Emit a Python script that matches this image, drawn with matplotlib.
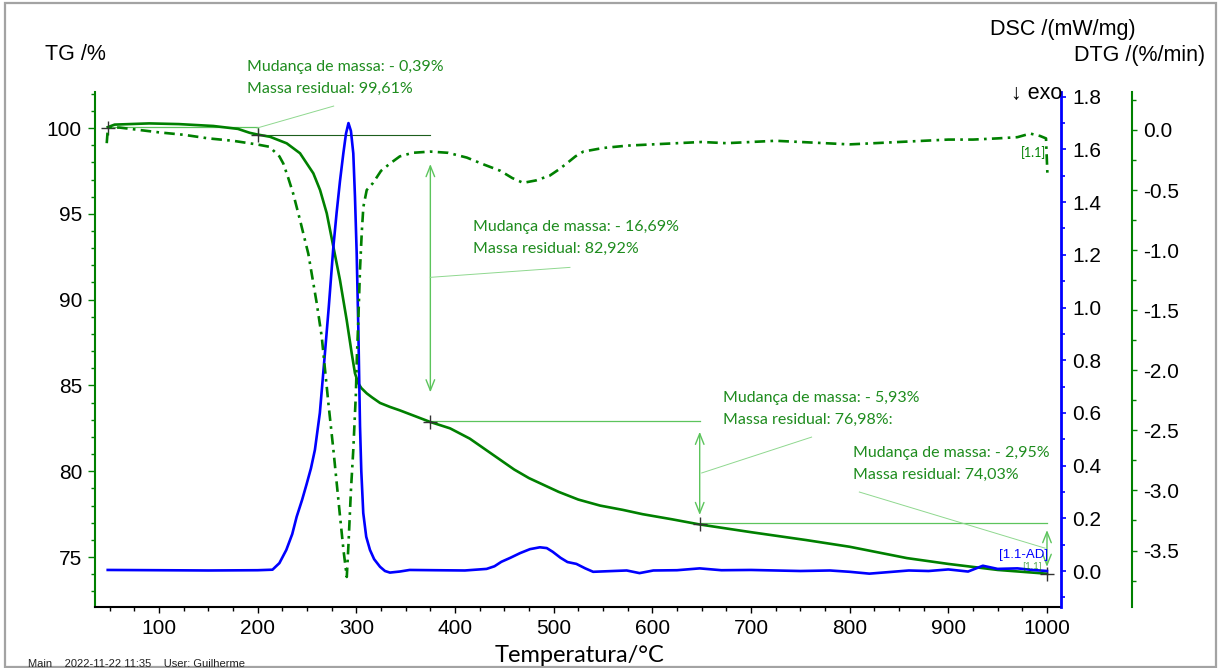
import matplotlib
matplotlib.use('Agg')
import matplotlib.pyplot as plt
from matplotlib.ticker import MultipleLocator, FixedLocator, FormatStrFormatter
from matplotlib.patches import Rectangle

plt.rcParams['font.family'] = ['Liberation Sans', 'DejaVu Sans']
plt.rcParams['axes.unicode_minus'] = False

# ---------------- data ----------------
T_tg = [48, 55, 90, 120, 155, 180, 192, 200, 212.5, 229.4, 242.9, 256.4, 263.2, 270, 276.7,
        283.4, 290.2, 295.3, 298.6, 302, 305, 310.5, 316, 324, 334, 344, 360, 375, 395, 415,
        430, 445, 460, 475, 490, 505, 525, 547, 570, 590, 620, 648, 700, 756, 800, 858, 900,
        950, 1000]
tg = [100.05, 100.2, 100.27, 100.23, 100.12, 99.95, 99.72, 99.62, 99.49, 99.11, 98.53, 97.36,
      96.39, 95.03, 93.08, 91.14, 88.81, 86.87, 85.71, 85.12, 84.85, 84.54, 84.3, 83.98,
      83.75, 83.55, 83.2, 82.87, 82.5, 81.9, 81.3, 80.7, 80.1, 79.6, 79.2, 78.8, 78.35, 78.0,
      77.75, 77.5, 77.2, 76.9, 76.45, 75.99, 75.6, 74.94, 74.6, 74.25, 74.03]

T_dtg = [47, 48, 50, 60, 80, 100, 125, 150, 175, 199, 212, 222, 226, 231, 236, 242.9, 251.3,
         259.8, 264.9, 271.6, 276.7, 283.5, 287, 290.3, 292, 294.5, 296.9, 299.5, 300.5, 302,
         303.7, 305.5, 307.1, 310.5, 317, 325, 334, 344, 357, 375, 393, 412, 430, 446, 458,
         469, 482, 496, 505, 513, 522, 530, 550, 575, 600, 625, 650, 675, 700, 725, 750, 775,
         800, 825, 850, 875, 900, 925, 950, 970, 983, 993, 999, 1000.5]
dtg = [-0.11, 0.0, 0.02, 0.02, 0.0, -0.02, -0.04, -0.07, -0.09, -0.12, -0.14, -0.22, -0.28,
       -0.4, -0.53, -0.75, -1.03, -1.44, -1.72, -2.27, -2.66, -3.22, -3.5, -3.72, -3.45, -3.0,
       -2.66, -2.2, -1.9, -1.58, -1.16, -0.85, -0.64, -0.5, -0.44, -0.34, -0.28, -0.22, -0.19,
       -0.18, -0.19, -0.23, -0.29, -0.34, -0.40, -0.44, -0.42, -0.38, -0.33, -0.28, -0.22,
       -0.18, -0.15, -0.13, -0.12, -0.11, -0.10, -0.11, -0.10, -0.09, -0.10, -0.11, -0.12,
       -0.11, -0.10, -0.09, -0.08, -0.08, -0.07, -0.06, -0.03, -0.05, -0.07, -0.38]

T_dsc = [48, 100, 150, 200, 215, 222, 229, 235, 239.5, 245, 249.6, 254, 258, 263, 268, 272,
         276.7, 280, 283.4, 286.8, 289.5, 292, 294.5, 296.9, 298.6, 300.3, 302, 303.7, 305,
         307, 310, 313.8, 318, 324, 329, 334, 344, 354, 380, 410, 432, 440, 447, 456, 466,
         476, 486, 493, 499, 507, 514, 523, 532, 540, 560, 574, 587, 601, 625, 648, 670, 700,
         750, 780, 800, 820, 840, 860, 880, 900, 920, 935, 950, 970, 985, 1000]
dsc = [0.004, 0.003, 0.002, 0.003, 0.005, 0.03, 0.08, 0.14, 0.206, 0.27, 0.33, 0.39, 0.46,
       0.6, 0.82, 1.0, 1.23, 1.36, 1.48, 1.585, 1.66, 1.70, 1.67, 1.585, 1.42, 1.21, 0.92,
       0.55, 0.38, 0.22, 0.13, 0.08, 0.045, 0.016, 0.0, -0.006, -0.002, 0.004, 0.003, 0.002,
       0.008, 0.018, 0.035, 0.05, 0.068, 0.083, 0.09, 0.087, 0.073, 0.05, 0.034, 0.027, 0.01,
       -0.003, 0.0, 0.002, -0.008, 0.002, 0.003, 0.01, 0.003, 0.004, 0.0, 0.002, -0.003,
       -0.01, -0.004, 0.002, 0.0, 0.006, -0.002, 0.02, 0.008, 0.01, 0.004, 0.0]

step_T = [48, 200, 375, 648, 1000]
step_res = [100.07, 99.61, 82.92, 76.98, 74.03]
ann_line1 = ['Mudança de massa: - 0,39%', 'Mudança de massa: - 16,69%',
             'Mudança de massa: - 5,93%', 'Mudança de massa: - 2,95%']
ann_line2 = ['Massa residual: 99,61%', 'Massa residual: 82,92%',
             'Massa residual: 76,98%:', 'Massa residual: 74,03%']

x_ticks = [100, 200, 300, 400, 500, 600, 700, 800, 900, 1000]
tg_ticks = [75, 80, 85, 90, 95, 100]
dsc_ticks = [0.0, 0.2, 0.4, 0.6, 0.8, 1.0, 1.2, 1.4, 1.6, 1.8]
dtg_ticks = [0.0, -0.5, -1.0, -1.5, -2.0, -2.5, -3.0, -3.5]

# ---------------- layout ----------------
W, H = 1220, 668
fig = plt.figure(figsize=(W / 100, H / 100), dpi=100)


def fx(x):
    return x / W


def fy(y):
    return 1 - y / H


GREEN = '#008000'
BLUE = '#0000ff'
LGREEN = '#5cc45c'
TXTG = '#1e8c1e'
PX = 72 / 100  # points per pixel

ax = fig.add_axes([fx(95), fy(607), fx(1061) - fx(95), fy(92) - fy(607)])
ax2 = ax.twinx()
ax3 = ax.twinx()

ax.set_xlim(35.1, 1014.2)
ax.set_ylim(72.09, 102.1)
ax2.set_ylim(-0.1366, 1.818)
ax3.set_ylim(-3.970, 0.316)

# spines
for a in (ax, ax2, ax3):
    a.set_facecolor('none')
    a.spines['top'].set_visible(False)
ax.spines['right'].set_visible(False)
ax.spines['left'].set_color(GREEN)
ax.spines['left'].set_linewidth(1.5)
ax.spines['bottom'].set_color('black')
ax.spines['bottom'].set_linewidth(1.5)
for s in ('left', 'bottom'):
    ax2.spines[s].set_visible(False)
    ax3.spines[s].set_visible(False)
ax2.spines['right'].set_color(BLUE)
ax2.spines['right'].set_linewidth(2.0)
ax3.spines['right'].set_color(GREEN)
ax3.spines['right'].set_linewidth(1.5)
ax3.spines['right'].set_position(('outward', 71 * PX))

# ticks
ax.xaxis.set_major_locator(FixedLocator(x_ticks))
ax.xaxis.set_minor_locator(MultipleLocator(25))
ax.tick_params(axis='x', which='major', direction='out', length=6 * PX, width=1,
               labelsize=15, pad=6 * PX, color='black')
ax.tick_params(axis='x', which='minor', direction='out', length=4 * PX, width=1, color='black')

ax.yaxis.set_major_locator(FixedLocator(tg_ticks))
ax.yaxis.set_minor_locator(MultipleLocator(1))
ax.tick_params(axis='y', which='major', direction='out', length=7 * PX, width=1,
               labelsize=15, pad=6 * PX, color=GREEN)
ax.tick_params(axis='y', which='minor', direction='out', length=4 * PX, width=1, color=GREEN)

ax2.yaxis.set_major_locator(FixedLocator(dsc_ticks))
ax2.yaxis.set_minor_locator(MultipleLocator(0.1))
ax2.yaxis.set_major_formatter(FormatStrFormatter('%.1f'))
ax2.tick_params(axis='y', which='major', direction='out', length=5 * PX, width=1.2,
                labelsize=15, pad=6 * PX, color=BLUE)
ax2.tick_params(axis='y', which='minor', direction='out', length=3.5 * PX, width=1.2, color=BLUE)

ax3.yaxis.set_major_locator(FixedLocator(dtg_ticks))
ax3.yaxis.set_minor_locator(MultipleLocator(0.25))
ax3.yaxis.set_major_formatter(FormatStrFormatter('%.1f'))
ax3.tick_params(axis='y', which='major', direction='out', length=5 * PX, width=1,
                labelsize=15, pad=6 * PX, color=GREEN)
ax3.tick_params(axis='y', which='minor', direction='out', length=3.5 * PX, width=1, color=GREEN)

# ---------------- curves ----------------
ax.plot(T_tg, tg, color=GREEN, lw=1.9, solid_joinstyle='round', zorder=5)
ax3.plot(T_dtg, dtg, color=GREEN, lw=1.9, dashes=(4, 2, 1, 2), zorder=5)
ax2.plot(T_dsc, dsc, color=BLUE, lw=1.9, solid_joinstyle='round', zorder=6)

# ---------------- step annotations ----------------
kw = dict(color=LGREEN, lw=0.9, zorder=3)
ax.plot([step_T[0], step_T[1], step_T[1]], [step_res[0], step_res[0], step_res[1]], **kw)
ax.plot([step_T[1], step_T[2]], [step_res[1], step_res[1]], color='#1d5e1d', lw=0.8, zorder=3)
ax.plot([step_T[2], step_T[3]], [step_res[2], step_res[2]], **kw)
ax.plot([step_T[3], step_T[4]], [step_res[3], step_res[3]], **kw)

arrow_spans = [(97.9, 84.6), (82.30, 77.45), (76.57, 74.43)]
for Tx, (top, bot) in zip(step_T[2:], arrow_spans):
    ax.annotate('', xy=(Tx, top), xytext=(Tx, bot),
                arrowprops=dict(arrowstyle='<->,head_length=0.55,head_width=0.22',
                                color=LGREEN, lw=1.0, shrinkA=0, shrinkB=0,
                                mutation_scale=14), zorder=3)

leaders = [((199.3, 100.0), (277, 101.28)), ((375, 91.3), (516.5, 91.88)),
           ((650, 79.9), (761.4, 81.99)), ((809.8, 78.79), (998, 75.52))]
for (x0, y0), (x1, y1) in leaders:
    ax.plot([x0, x1], [y0, y1], color='#8fd88f', lw=0.7, zorder=3, clip_on=False)

ax.plot(step_T, [100.0, 99.61, 82.87, 76.92, 74.03], linestyle='none', marker='+',
        markersize=10, mew=1.0, color='#333333', zorder=7, clip_on=False)

text_pos = [(247, 67), (473, 227), (723, 398), (853, 453)]
for (px, py), l1, l2 in zip(text_pos, ann_line1, ann_line2):
    fig.text(fx(px), fy(py), l1, ha='left', va='center', fontsize=11.5,
             family=['Lato', 'DejaVu Sans'], color=TXTG)
    fig.text(fx(px), fy(py + 22), l2, ha='left', va='center', fontsize=11.5,
             family=['Lato', 'DejaVu Sans'], color=TXTG)

# curve tags
fig.text(fx(1021), fy(153), '[1.1]', ha='left', va='center', fontsize=9,
         family=['Lato', 'DejaVu Sans'], color=GREEN)
fig.text(fx(999), fy(555), '[1.1-AD]', ha='left', va='center', fontsize=9.5, color=BLUE)
fig.text(fx(1022), fy(566), '[1.1]', ha='left', va='center', fontsize=7,
         family=['Lato', 'DejaVu Sans'], color=GREEN, alpha=0.7)

# ---------------- axis titles ----------------
fig.text(fx(45), fy(55), 'TG /%', ha='left', va='center', fontsize=15.5)
fig.text(fx(1136), fy(30), 'DSC /(mW/mg)', ha='right', va='center', fontsize=15.5)
fig.text(fx(1205), fy(55), 'DTG /(%/min)', ha='right', va='center', fontsize=15.5)
fig.text(fx(1011), fy(93), '↓ exo', ha='left', va='center', fontsize=15.5, zorder=0)
fig.text(fx(580), fy(656), 'Temperatura/°C', ha='center', va='center', fontsize=17,
         family=['Lato', 'DejaVu Sans'])
fig.text(fx(28), fy(664), 'Main    2022-11-22 11:35    User: Guilherme', ha='left',
         va='center', fontsize=8, color='#222222')

# outer frame
fig.patches.append(Rectangle((fx(5), fy(667)), fx(1216) - fx(5), fy(3) - fy(667),
                             transform=fig.transFigure, fill=False, edgecolor='#a3a3a3',
                             lw=1.6, zorder=0))

fig.savefig('out.png', dpi=100)
